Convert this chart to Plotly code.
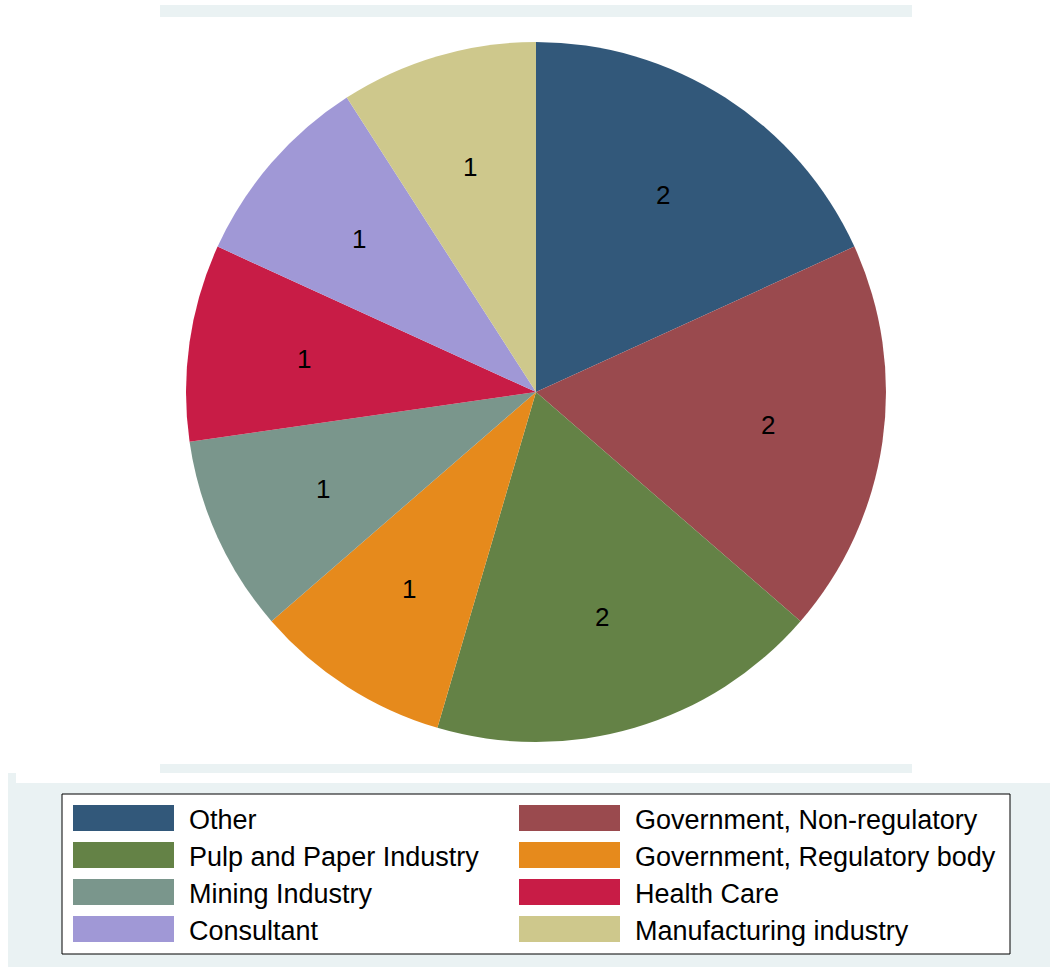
import math
import plotly.graph_objects as go

categories = ["Other", "Government, Non-regulatory", "Pulp and Paper Industry",
              "Government, Regulatory body", "Mining Industry", "Health Care",
              "Consultant", "Manufacturing industry"]
counts = [2, 2, 2, 1, 1, 1, 1, 1]
colors = ["#32587A", "#9A4A4E", "#648246", "#E68A1C",
          "#7A968C", "#C81C46", "#A098D6", "#CEC88C"]

W, H = 1050, 968
CX, CY, R = 536, 392, 350
LABEL_R = 234
BAND = "#EAF2F3"
FONT = "Liberation Sans, Arial, sans-serif"


def px(x):
    return x / W


def py(y):
    return 1 - y / H


fig = go.Figure(go.Pie(
    labels=categories, values=counts, sort=False, direction="clockwise",
    rotation=0, marker=dict(colors=colors, line=dict(width=0)),
    textinfo="none", hoverinfo="label+value", showlegend=False,
    domain=dict(x=[px(CX - R), px(CX + R)], y=[py(CY + R), py(CY - R)]),
))

shapes = [
    dict(type="rect", xref="paper", yref="paper", x0=px(160), x1=px(912), y0=py(17), y1=py(5),
         fillcolor=BAND, line=dict(width=0), layer="below"),
    dict(type="rect", xref="paper", yref="paper", x0=px(160), x1=px(912), y0=py(773), y1=py(764),
         fillcolor=BAND, line=dict(width=0), layer="below"),
    dict(type="rect", xref="paper", yref="paper", x0=px(8), x1=px(1050), y0=py(967), y1=py(783),
         fillcolor=BAND, line=dict(width=0), layer="below"),
    dict(type="rect", xref="paper", yref="paper", x0=px(8), x1=px(16), y0=py(784), y1=py(773),
         fillcolor=BAND, line=dict(width=0), layer="below"),
    dict(type="rect", xref="paper", yref="paper", x0=px(62), x1=px(1010), y0=py(954), y1=py(794),
         fillcolor="white", line=dict(color="black", width=1), layer="below"),
]

annotations = []
total = sum(counts)
cum = 0
for v in counts:
    mid = (cum + v / 2) / total * 2 * math.pi
    cum += v
    x = CX + LABEL_R * math.sin(mid)
    y = CY - LABEL_R * math.cos(mid)
    annotations.append(dict(x=px(x), y=py(y), xref="paper", yref="paper", text=str(v),
                            xanchor="center", yanchor="middle",
                            showarrow=False, font=dict(size=26, color="black", family=FONT)))

# legend (2 columns, row-major)
col_x = [73, 519]
text_x = [187, 633]
row_y = [805, 842, 879, 916]
sw_w, sw_h = 101, 26
for i, (cat, col) in enumerate(zip(categories, colors)):
    r, c = divmod(i, 2)
    y0 = row_y[r]
    shapes.append(dict(type="rect", xref="paper", yref="paper",
                       x0=px(col_x[c]), x1=px(col_x[c] + sw_w), y0=py(y0 + sw_h), y1=py(y0),
                       fillcolor=col, line=dict(width=0)))
    annotations.append(dict(x=px(text_x[c]), y=py(y0 + sw_h / 2 + 2), xref="paper", yref="paper",
                            text=cat, showarrow=False, xanchor="left", yanchor="middle",
                            font=dict(size=27, color="black", family=FONT)))

fig.update_layout(width=W, height=H, margin=dict(l=0, r=0, t=0, b=0),
                  paper_bgcolor="white", plot_bgcolor="white",
                  shapes=shapes, annotations=annotations)

fig.write_html("out.html", config={"displayModeBar": False},
               post_script="document.body.style.margin='0';document.body.style.overflow='hidden';")
